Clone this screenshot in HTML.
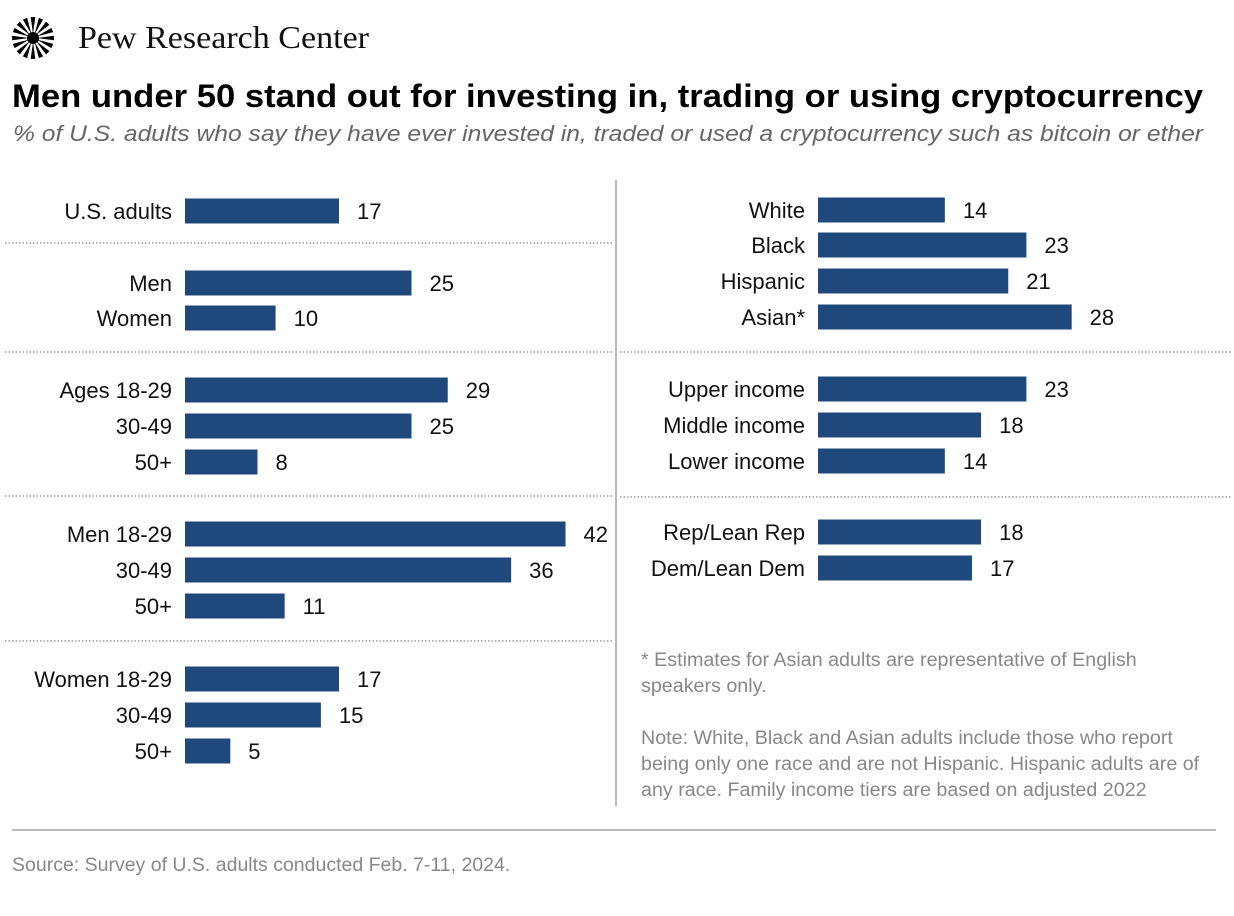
<!DOCTYPE html>
<html><head><meta charset="utf-8"><style>
body{margin:0;background:#fff;width:1234px;height:911px;overflow:hidden}
svg text{font-family:"Liberation Sans",Arial,sans-serif}
</style></head><body>
<svg id="c" width="1234" height="911" viewBox="0 0 1234 911">
<g id="logo"></g>
<text x="78" y="48" style="font-family:'Liberation Serif',serif" font-size="32" textLength="291" lengthAdjust="spacingAndGlyphs" fill="#111">Pew Research Center</text>
<text x="12" y="107" font-size="32" font-weight="bold" textLength="1191" lengthAdjust="spacingAndGlyphs" fill="#000">Men under 50 stand out for investing in, trading or using cryptocurrency</text>
<text x="13" y="141" font-size="22" font-style="italic" textLength="1190" lengthAdjust="spacingAndGlyphs" fill="#666">% of U.S. adults who say they have ever invested in, traded or used a cryptocurrency such as bitcoin or ether</text>
<line x1="616" y1="180" x2="616" y2="806" stroke="#bbb" stroke-width="2"/>
<line x1="12" y1="830" x2="1216" y2="830" stroke="#bbb" stroke-width="2"/>
<g id="bars"></g>
<g font-size="19.7" fill="#888">
<text x="641" y="666">* Estimates for Asian adults are representative of English</text>
<text x="641" y="692">speakers only.</text>
<text x="641" y="744">Note: White, Black and Asian adults include those who report</text>
<text x="641" y="770">being only one race and are not Hispanic. Hispanic adults are of</text>
<text x="641" y="796">any race. Family income tiers are based on adjusted 2022</text>
</g>
<text x="12" y="871" font-size="19.5" fill="#888">Source: Survey of U.S. adults conducted Feb. 7-11, 2024.</text>
</svg>
<script>
const leftLabels=["U.S. adults","Men","Women","Ages 18-29","30-49","50+","Men 18-29","30-49","50+","Women 18-29","30-49","50+"];
const leftValues=[17,25,10,29,25,8,42,36,11,17,15,5];
const leftRows=[211,283,318,390,426,462,534,570,606,679,715,751];
const rightLabels=["White","Black","Hispanic","Asian*","Upper income","Middle income","Lower income","Rep/Lean Rep","Dem/Lean Dem"];
const rightValues=[14,23,21,28,23,18,14,18,17];
const rightRows=[210,245,281,317,389,425,461,532,568];
const NS="http://www.w3.org/2000/svg";
const g=document.getElementById('bars');
function mk(t,a){const e=document.createElementNS(NS,t);for(const k in a)e.setAttribute(k,a[k]);return e;}
const unit=9.06;
function draw(labels,values,rows,x0,side){
  labels.forEach((l,i)=>{
    const y=rows[i],w=values[i]*unit;
    const r=mk('rect',{x:x0,y:y-12.5,width:w,height:25,fill:'#1f497d'});
    
    
    g.appendChild(r);
    const t=mk('text',{x:x0-13,y:y+8,'text-anchor':'end','font-size':'22',fill:'#111'});
    t.textContent=l;
    
    
    g.appendChild(t);
    const v=mk('text',{x:x0+w+18,y:y+8,'font-size':'22',fill:'#111'});
    v.textContent=values[i];
    
    
    g.appendChild(v);
  });
}
draw(leftLabels,leftValues,leftRows,185,'left');
draw(rightLabels,rightValues,rightRows,818,'right');
[[5,612,243],[5,612,352],[5,612,496],[5,612,641],[620,1232,352],[620,1232,497]].forEach(s=>{
  const l=mk('line',{x1:s[0],x2:s[1],y1:s[2],y2:s[2],stroke:'#888','stroke-width':1.2,'stroke-dasharray':'1.5 2'});
  
  
  g.appendChild(l);
});
const lg=document.getElementById('logo');
const cx=33,cy=38;
for(let k=0;k<16;k++){
  const a=k*Math.PI/8,da=0.11;
  const p=[[cx+4*Math.cos(a),cy+4*Math.sin(a)],[cx+21*Math.cos(a-da),cy+21*Math.sin(a-da)],[cx+21*Math.cos(a+da),cy+21*Math.sin(a+da)]];
  lg.appendChild(mk('polygon',{points:p.map(q=>q.join(',')).join(' '),fill:'#000'}));
}
lg.appendChild(mk('circle',{cx:cx,cy:cy,r:6,fill:'#000'}));
</script>
</body></html>
